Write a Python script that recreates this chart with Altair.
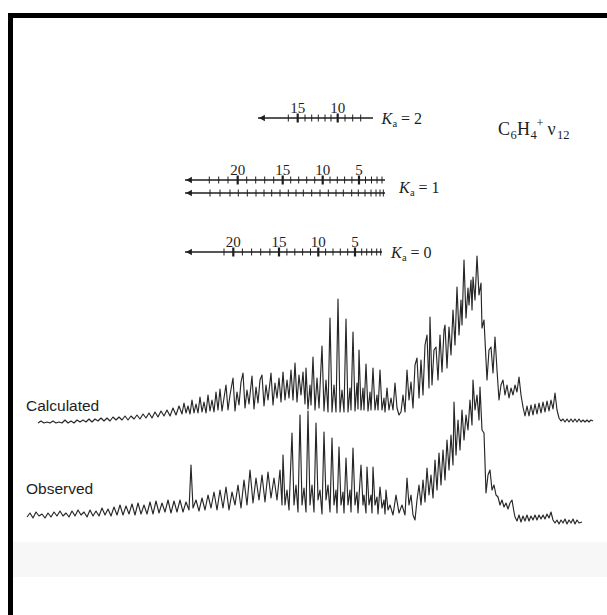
import altair as alt
import pandas as pd

# ---------------- spectra: (position, level) pairs ----------------
calc = [
    38,423, 41,421, 44,423, 47,422, 50,423, 53,421, 56,423, 59,422, 62,423, 65,420, 68,423, 71,421,
    74,423, 77,420, 80,422, 83,420, 86,422, 89,419, 92,422, 95,419, 98,421, 101,418, 104,421, 107,418,
    110,421, 113,417, 116,420, 119,417, 122,420, 125,416, 128,420, 131,416, 134,419, 137,415, 140,419,
    143,414, 146,418, 149,413, 152,418, 155,412, 158,417, 161,411, 164,416, 167,410, 170,416, 173,408,
    176,415, 179,406, 182,414, 184,403, 186,413, 188,406, 190,414, 192,400, 194,413, 196,404, 198,413,
    200,397, 202,412, 204,402, 206,413, 208,395, 210,411, 212,400, 214,412, 216,392, 218,410, 220,389,
    222,411, 224,398, 226,385, 228,410, 230,395, 233,378, 235,411, 237,392, 239,405, 241,382, 243,373,
    245,408, 247,390, 249,404, 252,376, 254,409, 256,387, 258,403, 260,380, 262,375, 264,406, 266,385,
    268,400, 271,373, 273,405, 275,383, 277,398, 279,378, 281,402, 283,372, 285,400, 287,380, 289,398,
    291,370, 293,400, 295,363, 297,402, 299,375, 301,395, 303,372, 305,404,
    306,368, 308,409, 310,385, 311,405, 313,357, 315,410, 317,378, 319,408, 322,346, 324,411, 326,380,
    328,412, 330,318, 332,412, 334,385, 336,412, 338,299, 340,412, 342,390, 344,412, 346,319, 348,412,
    350,388, 351,410, 353,332, 355,411, 357,383, 358,409, 359,350, 361,410, 363,388, 364,410, 366,364,
    368,411, 370,392, 371,410, 373,368, 375,410, 377,395, 378,410, 380,370, 382,410, 384,398, 385,412,
    387,388, 389,410, 391,398, 393,410, 395,383, 397,408, 399,415, 401,412,
    403,395, 405,412, 407,370, 409,400, 411,382, 413,408, 415,365, 417,358, 419,398, 421,360, 423,395,
    425,345, 427,335, 429,388, 430,317, 432,385, 434,350, 436,347, 438,380, 440,335, 442,372, 444,330,
    445,325, 447,368, 449,327, 451,355, 453,310, 455,345, 457,287, 459,335, 461,300, 462,325, 464,260,
    466,318, 468,288, 469,305, 471,280, 472,310, 473,277, 475,300, 477,256, 479,295, 481,283, 482,328,
    484,320, 485,340, 487,380, 489,350, 491,347, 493,373, 495,337, 497,370, 499,400, 501,385, 503,380,
    505,395, 507,385, 509,398, 511,388, 513,395, 515,385, 517,392, 519,377, 521,395, 523,407, 525,416,
    527,406, 529,416, 531,405, 533,415, 535,404, 537,414, 539,403, 541,413, 543,402, 545,412, 547,401,
    549,411, 551,400, 553,409, 555,393, 557,410, 559,418, 561,421, 563,419, 565,422, 567,419, 569,422,
    571,419, 573,422, 575,419, 577,422, 579,419, 581,422, 583,420, 585,422, 587,420, 589,422, 591,420,
    593,421,
]
obs = [
    27,517, 30,513, 33,518, 36,512, 39,516, 42,514, 45,518, 48,513, 51,517, 54,512, 57,516, 60,511,
    63,516, 66,513, 69,517, 72,511, 75,516, 78,510, 81,515, 84,512, 87,517, 90,510, 93,516, 96,511,
    99,516, 102,508, 105,515, 108,509, 111,516, 114,507, 117,515, 120,505, 123,515, 126,506, 129,514,
    132,504, 135,515, 138,503, 141,514, 144,505, 147,514, 150,502, 153,514, 156,501, 159,513, 162,503,
    165,512, 168,500, 171,513, 174,501, 177,512, 180,500, 183,512, 186,502, 189,510, 191,465, 193,508,
    196,500, 199,511, 202,498, 205,510, 208,495, 211,508, 214,492, 217,510, 220,490, 223,508, 226,487,
    229,510, 232,492, 235,505, 238,485, 241,508, 244,480, 247,505, 250,470, 253,503, 256,478, 259,500,
    262,475, 265,502, 268,472, 271,498, 274,478, 277,500, 280,470, 282,505,
    283,455, 285,505, 287,490, 289,510, 292,433, 294,505, 296,485, 298,512, 300,415, 302,505, 304,488,
    306,512, 308,411, 310,505, 312,485, 314,512, 316,423, 318,500, 320,490, 322,514, 324,432, 326,500,
    328,485, 330,512, 332,438, 334,505, 336,490, 337,513, 339,447, 341,505, 343,492, 344,513, 346,458,
    348,505, 350,490, 351,512, 353,448, 355,505, 357,492, 358,513, 361,465, 363,505, 364,495, 366,513,
    367,467, 369,505, 371,495, 372,513, 373,467, 375,505, 377,497, 378,514, 380,487, 382,508, 384,500,
    385,514, 386,490, 388,510, 390,505, 393,515, 396,495, 399,513, 402,505, 405,515,
    407,478, 409,505, 411,495, 413,515, 415,520, 417,500, 419,485, 421,505, 423,480, 425,502, 427,468,
    429,495, 431,475, 433,498, 435,460, 437,490, 439,453, 441,485, 443,450, 445,480, 447,440, 449,470,
    451,435, 453,465, 454,402, 456,455, 458,420, 460,450, 462,410, 464,440, 466,415, 468,430, 470,400,
    472,425, 473,380, 475,410, 477,395, 479,420, 480,387, 482,430, 484,433, 486,493, 488,475, 490,470,
    492,490, 494,485, 496,495, 498,497, 500,505, 502,500, 504,507, 506,503, 508,509, 510,503, 512,500,
    514,512, 515,517, 517,521, 519,515, 521,522, 523,516, 525,521, 527,515, 529,521, 531,516, 533,520,
    535,515, 537,520, 539,515, 541,519, 543,515, 545,519, 547,514, 549,518, 551,512, 553,520, 555,523,
    557,520, 559,524, 561,520, 563,523, 565,519, 567,524, 569,520, 571,523, 573,519, 575,524, 577,520,
    579,523, 582,522,
]
calc_x, calc_y = calc[0::2], calc[1::2]
obs_x, obs_y = obs[0::2], obs[1::2]

# ---------------- K_a assignment ladders ----------------
k2_ticks = [288.3, 297.7, 305, 311.7, 318.3, 325, 331, 337.7, 345, 352.7, 360.7]
k1a_ticks = [209.3, 218.7, 228, 237.7, 246.7, 255.7, 264.7, 273.7, 282.7, 290.7, 298.7, 306.7,
             314.7, 322.7, 330, 337.3, 344.6, 351.9, 359, 365.5, 371.5, 377, 382]
k1b_ticks = [210, 220, 230, 238.3, 247.3, 256, 264, 271.7, 280, 288.3, 296, 303.3, 311.7, 320,
             328.3, 336, 343.3, 351.7, 358.3, 365, 371, 376, 380, 383.3]
k0_ticks = [224, 233.3, 242.4, 251.6, 260.7, 269.9, 279, 286.9, 294.8, 302.6, 310.5, 318.3, 325.6,
            333, 340.3, 347.7, 355, 361.7, 366.7, 371.7, 376.7, 380.7]
k2_labels = [(297.7, "15"), (337.7, "10")]
k1_labels = [(237.7, "20"), (282.7, "15"), (322.7, "10"), (359, "5")]
k0_labels = [(233.3, "20"), (279, "15"), (318.3, "10"), (355, "5")]
ladder_rows = [  # name, level, start (arrow tip), end
    ("Ka=2", 118, 258, 373),
    ("Ka=1a", 180, 185, 385),
    ("Ka=1b", 193, 185, 385),
    ("Ka=0", 252, 185, 382),
]

# ---------------- build tables ----------------
spec = pd.DataFrame(
    [{"x": x, "y": y, "i": i, "s": "calc"} for i, (x, y) in enumerate(zip(calc_x, calc_y))]
    + [{"x": x, "y": y, "i": i, "s": "obs"} for i, (x, y) in enumerate(zip(obs_x, obs_y))]
)

rows = {r[0]: r for r in ladder_rows}
lines = pd.DataFrame([{"x": a, "x2": b, "y": lv} for _, lv, a, b in ladder_rows])
arrows = pd.DataFrame([{"x": a + 4, "y": lv} for _, lv, a, b in ladder_rows])

ticks = []
def add_ticks(name, xs, majors):
    lv = rows[name][1]
    for x in xs:
        big = any(abs(x - m) < 0.01 for m in majors)
        ticks.append({"x": x, "y": lv - (4.5 if big else 3.5), "y2": lv + (4.5 if big else 3.5),
                      "w": "major" if big else "minor"})
add_ticks("Ka=2", k2_ticks, [m for m, _ in k2_labels])
add_ticks("Ka=1a", k1a_ticks, [m for m, _ in k1_labels])
add_ticks("Ka=1b", k1b_ticks, [])
add_ticks("Ka=0", k0_ticks, [m for m, _ in k0_labels])
ticks = pd.DataFrame(ticks)

nums = pd.DataFrame(
    [{"x": x, "y": rows["Ka=2"][1] - 5, "t": t} for x, t in k2_labels]
    + [{"x": x, "y": rows["Ka=1a"][1] - 5, "t": t} for x, t in k1_labels]
    + [{"x": x, "y": rows["Ka=0"][1] - 5, "t": t} for x, t in k0_labels]
)

ka_names = pd.DataFrame([
    {"x": 381.5, "y": 123.5, "k": "2"},
    {"x": 399, "y": 193, "k": "1"},
    {"x": 391, "y": 258, "k": "0"},
])
ka_K = ka_names.assign(t="K")
ka_sub = ka_names.assign(x=ka_names.x + 11, y=ka_names.y + 3, t="a")
ka_eq = ka_names.assign(x=ka_names.x + 19.5, t=lambda d: "= " + d.k)

title_main = pd.DataFrame([{"x": 498, "y": 135, "t": "C"}, {"x": 517, "y": 135, "t": "H"},
                           {"x": 547.5, "y": 135, "t": "ν"}])
title_sub = pd.DataFrame([{"x": 510.5, "y": 138.5, "t": "6"}, {"x": 530.5, "y": 138.5, "t": "4"},
                          {"x": 557, "y": 138.5, "t": "12"}])
title_sup = pd.DataFrame([{"x": 536.5, "y": 126.5, "t": "+"}])

trace_names = pd.DataFrame([{"x": 26, "y": 405.5, "t": "Calculated"},
                            {"x": 26, "y": 488.5, "t": "Observed"}])

X = alt.X("x:Q", scale=alt.Scale(domain=[0, 607], nice=False, zero=False), axis=None)
Y = alt.Y("y:Q", scale=alt.Scale(domain=[0, 615], reverse=True, nice=False, zero=False), axis=None)

INK = "#1e1e1e"

spectra = alt.Chart(spec).mark_line(strokeWidth=1.15, color="#262626", strokeJoin="round").encode(
    x=X, y=Y, detail="s:N", order="i:Q")

ladder_lines = alt.Chart(lines).mark_rule(strokeWidth=1.3, color=INK).encode(x=X, x2="x2:Q", y=Y)
ladder_arrows = alt.Chart(arrows).mark_point(shape="triangle-left", filled=True, size=45,
                                             color=INK, opacity=1).encode(x=X, y=Y)
tick_marks = alt.Chart(ticks).mark_rule(color=INK).encode(
    x=X, y=Y, y2="y2:Q",
    strokeWidth=alt.StrokeWidth("w:N", scale=alt.Scale(domain=["major", "minor"], range=[2.2, 1]),
                                legend=None))
num_text = alt.Chart(nums).mark_text(font="Liberation Serif", fontSize=15, baseline="alphabetic",
                                     align="center", color=INK).encode(x=X, y=Y, text="t:N")
kK = alt.Chart(ka_K).mark_text(font="Liberation Serif", fontSize=16, fontStyle="italic",
                               align="left", baseline="alphabetic", color=INK).encode(x=X, y=Y, text="t:N")
kS = alt.Chart(ka_sub).mark_text(font="Liberation Serif", fontSize=10.5, align="left",
                                 baseline="alphabetic", color=INK).encode(x=X, y=Y, text="t:N")
kE = alt.Chart(ka_eq).mark_text(font="Liberation Serif", fontSize=16, align="left",
                                baseline="alphabetic", color=INK).encode(x=X, y=Y, text="t:N")
tM = alt.Chart(title_main).mark_text(font="Liberation Serif", fontSize=18, align="left",
                                     baseline="alphabetic", color=INK).encode(x=X, y=Y, text="t:N")
tS = alt.Chart(title_sub).mark_text(font="Liberation Serif", fontSize=12.5, align="left",
                                    baseline="alphabetic", color=INK).encode(x=X, y=Y, text="t:N")
tP = alt.Chart(title_sup).mark_text(font="Liberation Serif", fontSize=12.5, align="left",
                                    baseline="alphabetic", color=INK).encode(x=X, y=Y, text="t:N")
names = alt.Chart(trace_names).mark_text(font="Liberation Sans", fontSize=15.5, align="left",
                                         baseline="middle", color=INK).encode(x=X, y=Y, text="t:N")

band = alt.Chart(pd.DataFrame([{"a": 0}])).mark_rect(color="#f7f7f7").encode(
    x=alt.value(13), x2=alt.value(607), y=alt.value(542), y2=alt.value(577))
frame_top = alt.Chart(pd.DataFrame([{"a": 0}])).mark_rect(color="#000000").encode(
    x=alt.value(8), x2=alt.value(607), y=alt.value(13), y2=alt.value(18))
frame_left = alt.Chart(pd.DataFrame([{"a": 0}])).mark_rect(color="#000000").encode(
    x=alt.value(8), x2=alt.value(13), y=alt.value(13), y2=alt.value(615))

chart = alt.layer(
    band, frame_top, frame_left,
    ladder_lines, tick_marks, ladder_arrows, num_text, kK, kS, kE,
    tM, tS, tP, names, spectra,
).properties(width=607, height=615, padding=0, autosize="none", background="white"
).configure_view(stroke=None)

chart.save("out.html", embed_options={"renderer": "svg", "actions": False})
